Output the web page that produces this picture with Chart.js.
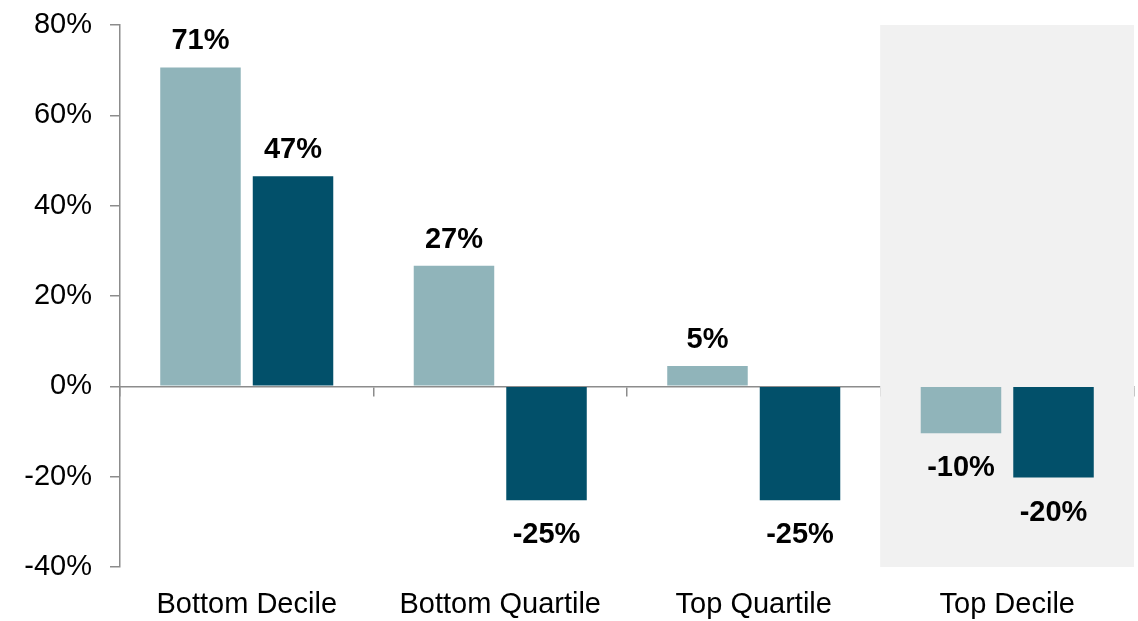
<!DOCTYPE html>
<html>
<head>
<meta charset="utf-8">
<script src="https://cdn.jsdelivr.net/npm/chart.js@4"></script>
<style>
  html, body { margin: 0; padding: 0; background: #ffffff; }
  #wrap { width: 1138px; height: 621px; position: relative; }
</style>
</head>
<body>
<div id="wrap"><canvas id="c"></canvas></div>
<script>
// ---- data ----
const categories = ['Bottom Decile', 'Bottom Quartile', 'Top Quartile', 'Top Decile'];
const seriesLight = [70.6, 26.7, 4.5, -10.4];
const seriesDark = [46.5, -25.2, -25.2, -20.2];
const highlightRange = [null, null, null, [-40, 80]];
const yMin = -40;
const yMax = 80;
const yStep = 20;

const FONT = '"Liberation Sans", Arial, Helvetica, sans-serif';

const labelPlugin = {
  id: 'valueLabels',
  afterDatasetsDraw(chart) {
    const ctx = chart.ctx;
    ctx.save();
    ctx.font = 'bold 29px ' + FONT;
    ctx.fillStyle = '#000000';
    ctx.textAlign = 'center';
    ctx.textBaseline = 'alphabetic';
    [0, 1].forEach(di => {
      const meta = chart.getDatasetMeta(di);
      const data = chart.data.datasets[di].data;
      meta.data.forEach((el, i) => {
        const v = data[i];
        const txt = Math.round(v) + '%';
        const y = v >= 0 ? el.y - 18 : el.y + 43;
        ctx.fillText(txt, el.x, y);
      });
    });
    ctx.restore();
  }
};

new Chart(document.getElementById('c'), {
  type: 'bar',
  data: {
    labels: categories,
    datasets: [
      {
        label: 'Series 1',
        data: seriesLight,
        backgroundColor: '#90b4ba',
        categoryPercentage: 0.73,
        barPercentage: 0.87,
        order: 1
      },
      {
        label: 'Series 2',
        data: seriesDark,
        backgroundColor: '#02506a',
        categoryPercentage: 0.73,
        barPercentage: 0.87,
        order: 1
      },
      {
        label: 'highlight',
        data: highlightRange,
        backgroundColor: '#f1f1f1',
        grouped: false,
        categoryPercentage: 1,
        barPercentage: 1,
        order: 10
      }
    ]
  },
  options: {
    responsive: true,
    maintainAspectRatio: false,
    animation: false,
    events: [],
    layout: { padding: { left: 0, right: 4, top: 25, bottom: 0 } },
    plugins: {
      legend: { display: false },
      tooltip: { enabled: false }
    },
    scales: {
      x: {
        position: 'bottom',
        border: { display: false },
        grid: { display: false, drawTicks: false },
        ticks: {
          color: '#000000',
          padding: 22,
          maxRotation: 0,
          font: { family: FONT, size: 29, lineHeight: 1.1 }
        },
        afterFit(scale) { scale.height = 54; scale.paddingLeft = 0; scale.paddingRight = 0; }
      },
      x2: {
        type: 'category',
        position: { y: 0 },
        z: 1,
        border: { display: true, color: '#8c8c8c', width: 1.5 },
        grid: { display: true, offset: true, drawOnChartArea: false, drawTicks: true, tickLength: 9, color: '#8c8c8c', lineWidth: 1.5 },
        ticks: { display: false }
      },
      y: {
        min: yMin,
        max: yMax,
        border: { display: true, color: '#8c8c8c', width: 1.5 },
        grid: { display: true, drawOnChartArea: false, drawTicks: true, tickLength: 10, color: '#8c8c8c', lineWidth: 1.5 },
        ticks: {
          stepSize: yStep,
          color: '#000000',
          padding: 18,
          font: { family: FONT, size: 29 },
          callback: v => v + '%'
        },
        afterFit(scale) { scale.width = 120; scale.paddingTop = 0; scale.paddingBottom = 0; }
      }
    }
  },
  plugins: [labelPlugin]
});
</script>
</body>
</html>
